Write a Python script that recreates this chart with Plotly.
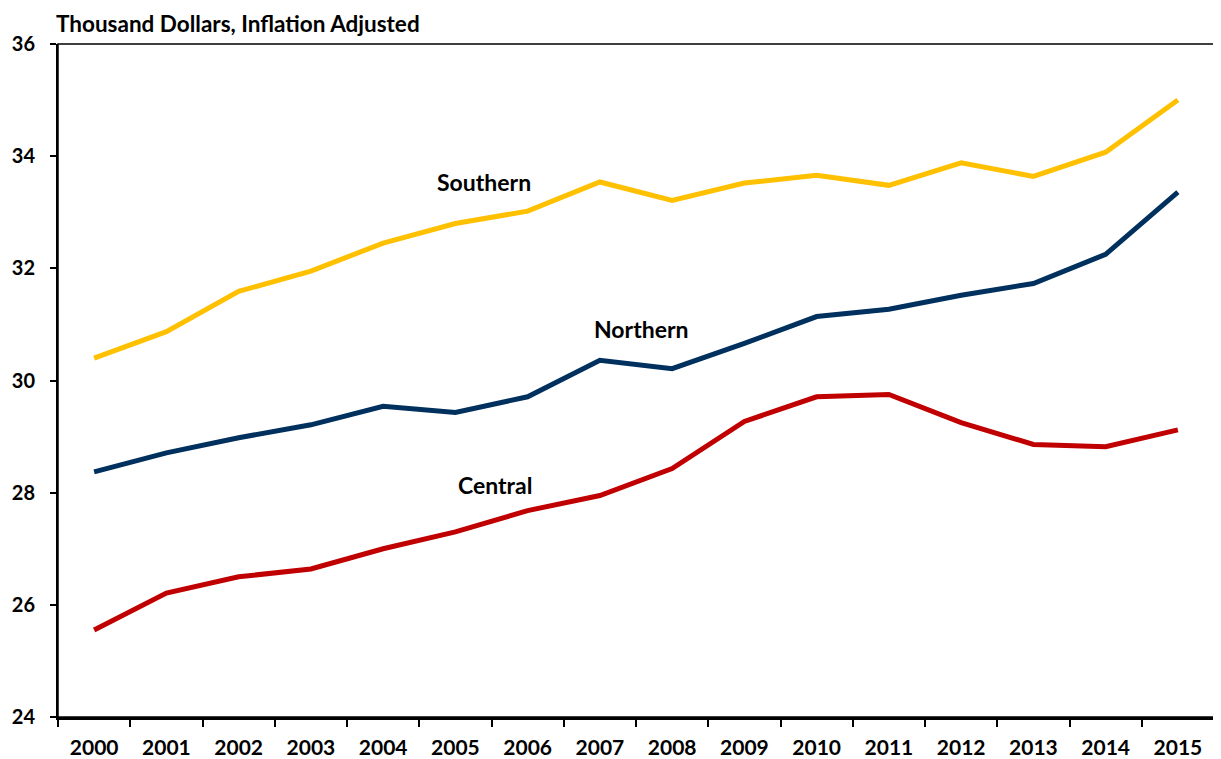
import plotly.graph_objects as go

years = [str(y) for y in range(2000, 2016)]
southern = [30.40, 30.87, 31.59, 31.95, 32.45, 32.80, 33.02, 33.54, 33.21, 33.52, 33.66, 33.48, 33.88, 33.64, 34.07, 35.00]
northern = [28.37, 28.71, 28.98, 29.21, 29.54, 29.43, 29.71, 30.36, 30.21, 30.66, 31.14, 31.27, 31.52, 31.73, 32.25, 33.36]
central = [25.55, 26.21, 26.50, 26.64, 27.00, 27.30, 27.68, 27.95, 28.43, 29.27, 29.71, 29.75, 29.25, 28.86, 28.82, 29.12]

series = [
    ("Southern", southern, "#FFC000", 5.4, 33.54),
    ("Northern", northern, "#00305E", 7.57, 30.91),
    ("Central", central, "#C00000", 5.55, 28.14),
]

font_family = "Lato, 'Open Sans', sans-serif"

fig = go.Figure()
for name, vals, color, lx, ly in series:
    fig.add_trace(go.Scatter(x=years, y=vals, mode="lines", name=name,
                             line=dict(color=color, width=5)))
    fig.add_annotation(x=lx, y=ly, xref="x", yref="y", text=f"<b>{name}</b>",
                       showarrow=False, font=dict(size=23, color="#000000", family=font_family))

# page body has an 8px margin, so the figure is sized to the remaining area
fig.update_layout(
    width=1213, height=751,
    margin=dict(l=50, r=7, t=36, b=42, autoexpand=False),
    paper_bgcolor="white", plot_bgcolor="white",
    showlegend=False,
    font=dict(family=font_family, size=20, color="#000000"),
    annotations=list(fig.layout.annotations) + [
        dict(text="<b>Thousand Dollars, Inflation Adjusted</b>", xref="paper", yref="paper",
             x=0.0, y=1.0, xanchor="left", yanchor="middle", yshift=21, xshift=-4,
             showarrow=False, font=dict(size=22.5, color="#000000", family=font_family))
    ],
)

fig.update_xaxes(
    type="category", tickson="boundaries", ticks="outside", ticklen=7, tickwidth=2,
    tickcolor="#000000", showline=True, linecolor="#000000", linewidth=3, mirror=False,
    showgrid=False, tickfont=dict(size=21, family=font_family), tickprefix="<b>", ticksuffix="</b>",
    range=[-0.5, 15.5], automargin=False, ticklabelstandoff=10,
)
fig.update_yaxes(
    range=[24, 36], dtick=2, ticks="outside", ticklen=6, tickwidth=1.5, tickcolor="#000000",
    showline=True, linecolor="#000000", linewidth=2, mirror=True, showgrid=False, zeroline=False,
    tickfont=dict(size=20, family=font_family), tickprefix="<b>", ticksuffix="</b>",
    automargin=False, ticklabelstandoff=11,
)
fig.add_shape(type="rect", xref="paper", yref="paper", x0=0, y0=0, x1=1, y1=1,
              line=dict(color="#000000", width=1.5))

fig.write_html("out.html")
